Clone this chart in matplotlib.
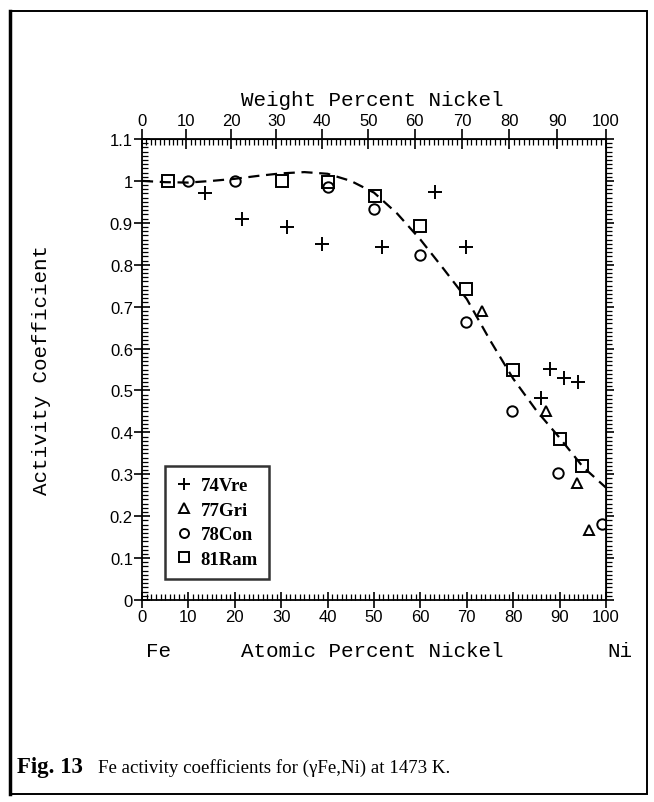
import matplotlib

matplotlib.use("Agg")
import matplotlib.pyplot as plt
from matplotlib.lines import Line2D
from matplotlib.patches import Rectangle
from matplotlib.ticker import MultipleLocator
import numpy as np

vre_x = [13.6, 21.5, 31.3, 38.8, 51.8, 63.1, 69.8, 86.0, 87.9, 91.0, 94.0]
vre_y = [0.970, 0.909, 0.891, 0.850, 0.842, 0.974, 0.842, 0.481, 0.551, 0.529, 0.519]
gri_x = [73.2, 87.0, 93.8, 96.3]
gri_y = [0.689, 0.452, 0.278, 0.168]
con_x = [10.0, 20.0, 40.0, 50.1, 59.9, 69.8, 79.8, 89.7, 99.2]
con_y = [1.000, 1.000, 0.985, 0.933, 0.824, 0.663, 0.452, 0.302, 0.181]
ram_x = [5.5, 30.1, 40.0, 50.2, 59.9, 69.8, 79.9, 90.1, 94.9]
ram_y = [1.000, 1.000, 0.997, 0.963, 0.892, 0.741, 0.550, 0.383, 0.320]

fit_x = [0, 5, 10, 15, 20, 25, 30, 35, 40, 45, 50, 55, 60, 65, 70, 75, 80, 85, 90, 95, 100]
fit_y = [1.000, 0.997, 0.996, 1.000, 1.005, 1.012, 1.018, 1.021, 1.017, 1.000, 0.972,
         0.922, 0.860, 0.790, 0.718, 0.620, 0.528, 0.452, 0.387, 0.318, 0.268]

series_labels = ["74Vre", "77Gri", "78Con", "81Ram"]
y_ticks = [0, 0.1, 0.2, 0.3, 0.4, 0.5, 0.6, 0.7, 0.8, 0.9, 1.0, 1.1]
y_ticklabels = ["0", "0.1", "0.2", "0.3", "0.4", "0.5", "0.6", "0.7", "0.8", "0.9", "1", "1.1"]
x_ticks = [0, 10, 20, 30, 40, 50, 60, 70, 80, 90, 100]

M_FE = 55.845
M_NI = 58.693


def at_to_wt(a):
    a = np.asarray(a, float)
    return 100 * a * M_NI / (a * M_NI + (100 - a) * M_FE)


def wt_to_at(w):
    w = np.asarray(w, float)
    return 100 * (w / M_NI) / (w / M_NI + (100 - w) / M_FE)


W, H = 654, 803
fig = plt.figure(figsize=(W / 100, H / 100), dpi=100)
ax = fig.add_axes([142 / W, 1 - 601 / H, 464 / W, 461 / H])

mono = "Liberation Mono"
sans = "Liberation Sans"
serif = "Liberation Serif"

ax.plot(fit_x, fit_y, color="black", lw=1.6, dashes=(5, 3))
mk = dict(ls="none", color="black", mfc="none", mew=1.4)
ax.plot(vre_x, vre_y, marker="+", ms=9.5, **mk)
ax.plot(gri_x, gri_y, marker="^", ms=7.5, **mk)
ax.plot(con_x, con_y, marker="o", ms=7.5, **mk)
ax.plot(ram_x, ram_y, marker="s", ms=8, **mk)

ax.set_xlim(0, 100)
ax.set_ylim(0, 1.1)
ax.set_xticks(x_ticks)
ax.xaxis.set_minor_locator(MultipleLocator(1))
ax.set_yticks(y_ticks)
ax.set_yticklabels(y_ticklabels)
ax.yaxis.set_minor_locator(MultipleLocator(0.01))
for s in ax.spines.values():
    s.set_linewidth(1.3)
ax.tick_params(which="major", direction="inout", length=11, width=1.2,
               labelsize=12, pad=1, right=False, top=False)
ax.tick_params(which="minor", direction="in", length=4, width=0.9,
               right=False, top=False)
for t in ax.get_xticklabels() + ax.get_yticklabels():
    t.set_fontfamily(sans)

right = ax.secondary_yaxis("right")
right.set_yticks(y_ticks)
right.yaxis.set_minor_locator(MultipleLocator(0.01))
right.tick_params(which="major", direction="out", length=6, width=1.2, labelright=False)
right.tick_params(which="minor", direction="out", length=4, width=0.9)

top = ax.secondary_xaxis("top", functions=(at_to_wt, wt_to_at))
top.set_xticks(x_ticks)
top.xaxis.set_minor_locator(MultipleLocator(1))
top.tick_params(which="major", direction="inout", length=14, width=1.2, labelsize=12, pad=1)
top.tick_params(which="minor", direction="in", length=4, width=0.9)
for t in top.get_xticklabels():
    t.set_fontfamily(sans)

lab = dict(family=mono, fontsize=15, ha="center", va="center")
fig.text(372 / W, 1 - 101 / H, "Weight Percent Nickel", **lab)
fig.text(372 / W, 1 - 652 / H, "Atomic Percent Nickel", **lab)
fig.text(158 / W, 1 - 652 / H, "Fe", **lab)
fig.text(620 / W, 1 - 652 / H, "Ni", **lab)
fig.text(42 / W, 1 - 370 / H, "Activity Coefficient", rotation=90, **lab)

handles = [
    Line2D([], [], marker="+", ms=8, **mk),
    Line2D([], [], marker="^", ms=6.5, **mk),
    Line2D([], [], marker="o", ms=6.5, **mk),
    Line2D([], [], marker="s", ms=6.5, **mk),
]
leg = ax.legend(handles, series_labels, loc="lower left", bbox_to_anchor=(0.05, 0.045),
                frameon=True, fancybox=False, handlelength=0.8, handletextpad=0.5,
                borderpad=0.6, labelspacing=0.4, borderaxespad=0,
                prop={"family": serif, "weight": "bold", "size": 13.5})
leg.get_frame().set_edgecolor("black")
leg.get_frame().set_linewidth(1.8)

# outer frame of the figure page
fig.patches.append(Rectangle((10 / W, 1 - 795 / H), 637 / W, 783 / H, fill=False,
                             edgecolor="black", lw=1.4, transform=fig.transFigure))
fig.add_artist(Line2D([10 / W, 10 / W], [1 - 12 / H, 1 - 795 / H], color="black", lw=2.5,
                      transform=fig.transFigure))

fig.text(17 / W, 1 - 768 / H, "Fig. 13", family=serif, weight="bold", fontsize=16.5,
         va="center")
fig.text(98 / W, 1 - 768 / H, "Fe activity coefficients for (\u03b3Fe,Ni) at 1473 K.",
         family=serif, fontsize=13.6, va="center")

fig.savefig("out.png", dpi=100)
